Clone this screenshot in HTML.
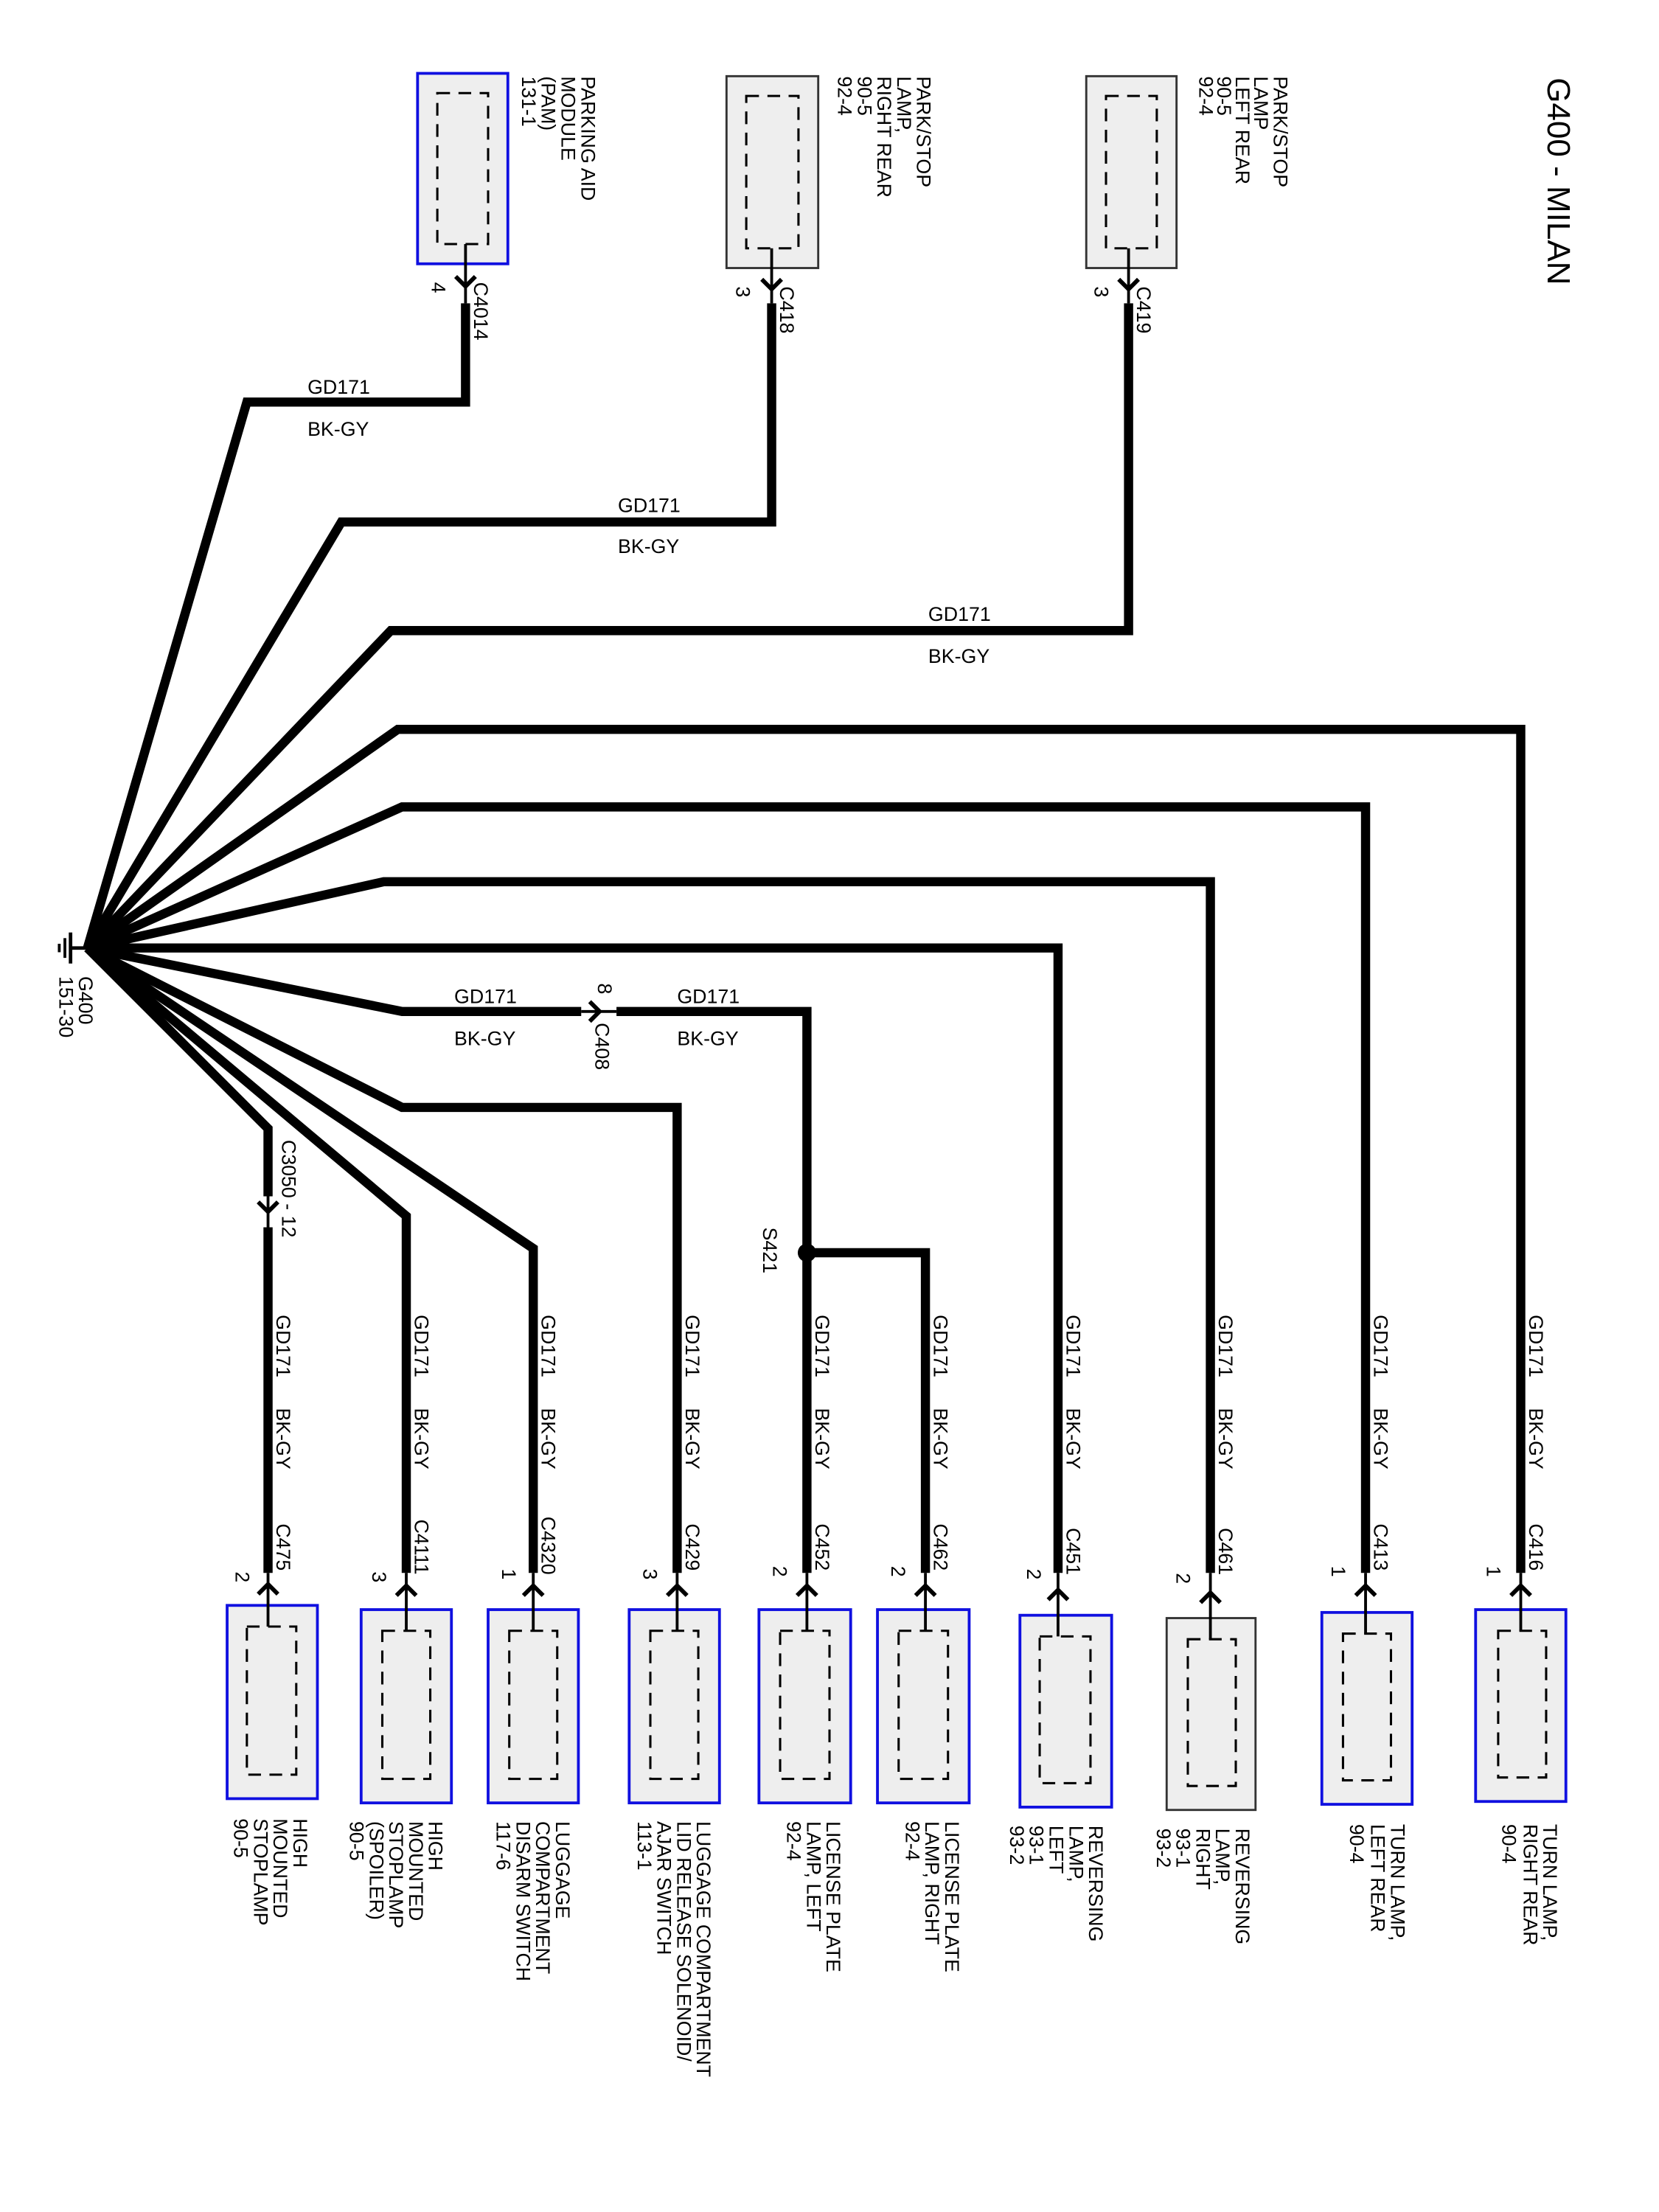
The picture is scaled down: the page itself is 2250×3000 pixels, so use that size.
<!DOCTYPE html>
<html><head><meta charset="utf-8"><style>
html,body{margin:0;padding:0;background:#fff;}
svg{display:block}
text{font-family:"Liberation Sans",Arial,sans-serif;font-size:14px;fill:#000}
.w{fill:none;stroke:#000;stroke-width:6.5;stroke-linejoin:miter}
.t{fill:none;stroke:#000;stroke-width:2}
.ch{fill:none;stroke:#000;stroke-width:3}
.bb{fill:#eeeeee;stroke:#1010e0;stroke-width:2}
.bg{fill:#eeeeee;stroke:#333;stroke-width:1.5}
.d{fill:none;stroke:#000;stroke-width:1.6;stroke-dasharray:9 6}
</style></head><body>
<svg width="2250" height="3000" viewBox="0 0 1176 1568" preserveAspectRatio="none" xmlns="http://www.w3.org/2000/svg">
<rect width="1176" height="1568" fill="#fff"/>
<!-- title -->
<text transform="translate(1097,55) rotate(90)" style="font-size:23px">G400 - MILAN</text>

<!-- ground -->
<line x1="50" y1="672" x2="62" y2="672" stroke="#000" stroke-width="2.5"/>
<line x1="50" y1="661" x2="50" y2="683" stroke="#000" stroke-width="2.5"/>
<line x1="46" y1="665" x2="46" y2="679" stroke="#000" stroke-width="2"/>
<line x1="42" y1="669" x2="42" y2="675" stroke="#000" stroke-width="2"/>
<text transform="translate(56,692) rotate(90)">G400</text>
<text transform="translate(42,692) rotate(90)">151-30</text>

<!-- wires -->
<polyline class="w" points="62,672 175,285 330,285 330,215"/>
<polyline class="w" points="62,672 242,370 547,370 547,215"/>
<polyline class="w" points="62,672 277,447 800,447 800,215"/>
<polyline class="w" points="62,672 282,517 1078,517 1078,1115"/>
<polyline class="w" points="62,672 285,572 968,572 968,1115"/>
<polyline class="w" points="62,672 272,625 858,625 858,1115"/>
<polyline class="w" points="62,672 750,672 750,1115"/>
<polyline class="w" points="62,672 285,717 412,717"/>
<polyline class="w" points="437,717 572,717 572,1115"/>
<polyline class="w" points="572,888 656,888 656,1115"/>
<polyline class="w" points="62,672 285,785 480,785 480,1115"/>
<polyline class="w" points="62,672 378,885 378,1115"/>
<polyline class="w" points="62,672 288,862 288,1115"/>
<polyline class="w" points="62,672 190,800 190,848"/>
<polyline class="w" points="190,870 190,1115"/>
<circle cx="572" cy="888" r="6.5" fill="#000"/>

<!-- C408 -->
<line class="t" x1="412" y1="717" x2="437" y2="717"/>
<path class="ch" d="M418,710 L425,717 L418,724"/>
<text transform="translate(424,697) rotate(90)">8</text>
<text transform="translate(422,725) rotate(90)">C408</text>
<!-- C3050 -->
<line class="t" x1="190" y1="848" x2="190" y2="870"/>
<path class="ch" d="M183,852 L190,859 L197,852"/>
<text transform="translate(200,808) rotate(90)">C3050 - 12</text>
<text transform="translate(541,870) rotate(90)">S421</text>

<!-- horizontal labels -->
<text x="218" y="279">GD171</text><text x="218" y="309">BK-GY</text>
<text x="438" y="363">GD171</text><text x="438" y="392">BK-GY</text>
<text x="658" y="440">GD171</text><text x="658" y="470">BK-GY</text>
<text x="322" y="711">GD171</text><text x="322" y="741">BK-GY</text>
<text x="480" y="711">GD171</text><text x="480" y="741">BK-GY</text>

<!-- vertical wire labels -->
<g>
<text transform="translate(1084,932) rotate(90)">GD171</text><text transform="translate(1084,998) rotate(90)">BK-GY</text>
<text transform="translate(974,932) rotate(90)">GD171</text><text transform="translate(974,998) rotate(90)">BK-GY</text>
<text transform="translate(864,932) rotate(90)">GD171</text><text transform="translate(864,998) rotate(90)">BK-GY</text>
<text transform="translate(756,932) rotate(90)">GD171</text><text transform="translate(756,998) rotate(90)">BK-GY</text>
<text transform="translate(662,932) rotate(90)">GD171</text><text transform="translate(662,998) rotate(90)">BK-GY</text>
<text transform="translate(578,932) rotate(90)">GD171</text><text transform="translate(578,998) rotate(90)">BK-GY</text>
<text transform="translate(486,932) rotate(90)">GD171</text><text transform="translate(486,998) rotate(90)">BK-GY</text>
<text transform="translate(384,932) rotate(90)">GD171</text><text transform="translate(384,998) rotate(90)">BK-GY</text>
<text transform="translate(294,932) rotate(90)">GD171</text><text transform="translate(294,998) rotate(90)">BK-GY</text>
<text transform="translate(196,932) rotate(90)">GD171</text><text transform="translate(196,998) rotate(90)">BK-GY</text>
</g>

<!-- TOP COMPONENTS -->
<rect class="bb" x="296" y="52" width="64" height="135"/>
<rect class="d" x="310" y="66" width="36" height="107"/>
<line class="t" x1="330" y1="173" x2="330" y2="215"/>
<path class="ch" d="M323,196 L330,203 L337,196"/>
<text transform="translate(306,200) rotate(90)">4</text>
<text transform="translate(336,200) rotate(90)">C4014</text>
<text transform="translate(412,54) rotate(90)">PARKING AID</text>
<text transform="translate(398,54) rotate(90)">MODULE</text>
<text transform="translate(384,54) rotate(90)">(PAM)</text>
<text transform="translate(370,54) rotate(90)">131-1</text>

<rect class="bg" x="515" y="54" width="65" height="136"/>
<rect class="d" x="529" y="68" width="37" height="108"/>
<line class="t" x1="547" y1="176" x2="547" y2="215"/>
<path class="ch" d="M540,198 L547,205 L554,198"/>
<text transform="translate(522,203) rotate(90)">3</text>
<text transform="translate(553,203) rotate(90)">C418</text>
<text transform="translate(650,54) rotate(90)">PARK/STOP</text>
<text transform="translate(636,54) rotate(90)">LAMP,</text>
<text transform="translate(622,54) rotate(90)">RIGHT REAR</text>
<text transform="translate(608,54) rotate(90)">90-5</text>
<text transform="translate(594,54) rotate(90)">92-4</text>

<rect class="bg" x="770" y="54" width="64" height="136"/>
<rect class="d" x="784" y="68" width="36" height="108"/>
<line class="t" x1="800" y1="176" x2="800" y2="215"/>
<path class="ch" d="M793,198 L800,205 L807,198"/>
<text transform="translate(776,203) rotate(90)">3</text>
<text transform="translate(806,203) rotate(90)">C419</text>
<text transform="translate(903,54) rotate(90)">PARK/STOP</text>
<text transform="translate(889,54) rotate(90)">LAMP</text>
<text transform="translate(876,54) rotate(90)">LEFT REAR</text>
<text transform="translate(863,54) rotate(90)">90-5</text>
<text transform="translate(850,54) rotate(90)">92-4</text>

<!-- BOTTOM COMPONENTS -->
<!-- C416 -->
<rect class="bb" x="1046" y="1141" width="64" height="136"/>
<rect class="d" x="1062" y="1156" width="34" height="104"/>
<line class="t" x1="1078" y1="1115" x2="1078" y2="1156"/>
<path class="ch" d="M1071,1131 L1078,1124 L1085,1131"/>
<text transform="translate(1054,1110) rotate(90)">1</text>
<text transform="translate(1084,1080) rotate(90)">C416</text>
<text transform="translate(1094,1293) rotate(90)">TURN LAMP,</text>
<text transform="translate(1080,1293) rotate(90)">RIGHT REAR</text>
<text transform="translate(1065,1293) rotate(90)">90-4</text>
<!-- C413 -->
<rect class="bb" x="937" y="1143" width="64" height="136"/>
<rect class="d" x="952" y="1158" width="34" height="104"/>
<line class="t" x1="968" y1="1115" x2="968" y2="1158"/>
<path class="ch" d="M961,1131 L968,1124 L975,1131"/>
<text transform="translate(944,1110) rotate(90)">1</text>
<text transform="translate(974,1080) rotate(90)">C413</text>
<text transform="translate(986,1293) rotate(90)">TURN LAMP,</text>
<text transform="translate(972,1293) rotate(90)">LEFT REAR</text>
<text transform="translate(957,1293) rotate(90)">90-4</text>
<!-- C461 -->
<rect class="bg" x="827" y="1147" width="63" height="136"/>
<rect class="d" x="842" y="1162" width="34" height="104"/>
<line class="t" x1="858" y1="1115" x2="858" y2="1162"/>
<path class="ch" d="M851,1136 L858,1129 L865,1136"/>
<text transform="translate(834,1115) rotate(90)">2</text>
<text transform="translate(864,1083) rotate(90)">C461</text>
<text transform="translate(876,1296) rotate(90)">REVERSING</text>
<text transform="translate(862,1296) rotate(90)">LAMP,</text>
<text transform="translate(848,1296) rotate(90)">RIGHT</text>
<text transform="translate(834,1296) rotate(90)">93-1</text>
<text transform="translate(820,1296) rotate(90)">93-2</text>
<!-- C451 -->
<rect class="bb" x="723" y="1145" width="65" height="136"/>
<rect class="d" x="737" y="1160" width="36" height="104"/>
<line class="t" x1="750" y1="1115" x2="750" y2="1160"/>
<path class="ch" d="M743,1134 L750,1127 L757,1134"/>
<text transform="translate(728,1112) rotate(90)">2</text>
<text transform="translate(756,1083) rotate(90)">C451</text>
<text transform="translate(772,1294) rotate(90)">REVERSING</text>
<text transform="translate(758,1294) rotate(90)">LAMP,</text>
<text transform="translate(744,1294) rotate(90)">LEFT</text>
<text transform="translate(730,1294) rotate(90)">93-1</text>
<text transform="translate(716,1294) rotate(90)">93-2</text>
<!-- C462 -->
<rect class="bb" x="622" y="1141" width="65" height="137"/>
<rect class="d" x="637" y="1156" width="35" height="105"/>
<line class="t" x1="656" y1="1115" x2="656" y2="1156"/>
<path class="ch" d="M649,1131 L656,1124 L663,1131"/>
<text transform="translate(632,1110) rotate(90)">2</text>
<text transform="translate(662,1080) rotate(90)">C462</text>
<text transform="translate(670,1291) rotate(90)">LICENSE PLATE</text>
<text transform="translate(656,1291) rotate(90)">LAMP, RIGHT</text>
<text transform="translate(642,1291) rotate(90)">92-4</text>
<!-- C452 -->
<rect class="bb" x="538" y="1141" width="65" height="137"/>
<rect class="d" x="553" y="1156" width="35" height="105"/>
<line class="t" x1="572" y1="1115" x2="572" y2="1156"/>
<path class="ch" d="M565,1131 L572,1124 L579,1131"/>
<text transform="translate(548,1110) rotate(90)">2</text>
<text transform="translate(578,1080) rotate(90)">C452</text>
<text transform="translate(586,1291) rotate(90)">LICENSE PLATE</text>
<text transform="translate(572,1291) rotate(90)">LAMP, LEFT</text>
<text transform="translate(558,1291) rotate(90)">92-4</text>
<!-- C429 -->
<rect class="bb" x="446" y="1141" width="64" height="137"/>
<rect class="d" x="461" y="1156" width="34" height="105"/>
<line class="t" x1="480" y1="1115" x2="480" y2="1156"/>
<path class="ch" d="M473,1131 L480,1124 L487,1131"/>
<text transform="translate(456,1112) rotate(90)">3</text>
<text transform="translate(486,1080) rotate(90)">C429</text>
<text transform="translate(494,1291) rotate(90)">LUGGAGE COMPARTMENT</text>
<text transform="translate(480,1291) rotate(90)">LID RELEASE SOLENOID/</text>
<text transform="translate(466,1291) rotate(90)">AJAR SWITCH</text>
<text transform="translate(452,1291) rotate(90)">113-1</text>
<!-- C4320 -->
<rect class="bb" x="346" y="1141" width="64" height="137"/>
<rect class="d" x="361" y="1156" width="34" height="105"/>
<line class="t" x1="378" y1="1115" x2="378" y2="1156"/>
<path class="ch" d="M371,1131 L378,1124 L385,1131"/>
<text transform="translate(356,1112) rotate(90)">1</text>
<text transform="translate(384,1075) rotate(90)">C4320</text>
<text transform="translate(394,1291) rotate(90)">LUGGAGE</text>
<text transform="translate(380,1291) rotate(90)">COMPARTMENT</text>
<text transform="translate(366,1291) rotate(90)">DISARM SWITCH</text>
<text transform="translate(352,1291) rotate(90)">117-6</text>
<!-- C4111 -->
<rect class="bb" x="256" y="1141" width="64" height="137"/>
<rect class="d" x="271" y="1156" width="34" height="105"/>
<line class="t" x1="288" y1="1115" x2="288" y2="1156"/>
<path class="ch" d="M281,1131 L288,1124 L295,1131"/>
<text transform="translate(264,1114) rotate(90)">3</text>
<text transform="translate(294,1077) rotate(90)">C4111</text>
<text transform="translate(304,1291) rotate(90)">HIGH</text>
<text transform="translate(290,1291) rotate(90)">MOUNTED</text>
<text transform="translate(276,1291) rotate(90)">STOPLAMP</text>
<text transform="translate(262,1291) rotate(90)">(SPOILER)</text>
<text transform="translate(248,1291) rotate(90)">90-5</text>
<!-- C475 -->
<rect class="bb" x="161" y="1138" width="64" height="137"/>
<rect class="d" x="175" y="1153" width="35" height="105"/>
<line class="t" x1="190" y1="1115" x2="190" y2="1153"/>
<path class="ch" d="M183,1130 L190,1123 L197,1130"/>
<text transform="translate(167,1114) rotate(90)">2</text>
<text transform="translate(196,1080) rotate(90)">C475</text>
<text transform="translate(208,1289) rotate(90)">HIGH</text>
<text transform="translate(194,1289) rotate(90)">MOUNTED</text>
<text transform="translate(180,1289) rotate(90)">STOPLAMP</text>
<text transform="translate(166,1289) rotate(90)">90-5</text>
</svg>
</body></html>
